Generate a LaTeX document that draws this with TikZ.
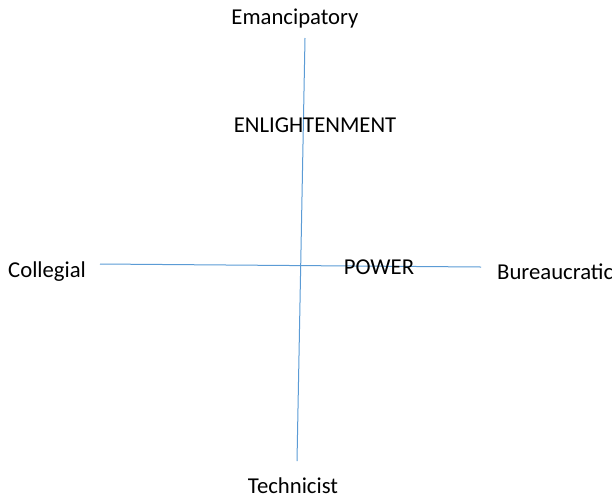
\documentclass[tikz,border=0pt]{standalone}
\usepackage{fontspec}
\setmainfont{Carlito}
\usepackage{tikz}
\usetikzlibrary{positioning}

\begin{document}
\begin{tikzpicture}[x=1pt,y=-1pt,
		axis/.style={draw=axisblue,line width=1pt},
		pole/.style={font=\fontsize{22.7}{27}\selectfont,inner sep=0pt,text=black}]
	\definecolor{axisblue}{HTML}{5B9BD5}
	\useasboundingbox (0,0) rectangle (612,499);
	% axes
	\coordinate (top) at (305,38);
	\coordinate (bot) at (297,461);
	\coordinate (left) at (100,264);
	\coordinate (right) at (481,267);
	\draw[axis] (top) -- (bot);
	\draw[axis] (left) -- (right);
	% labels
	\node(eman) [pole] at (295,19) {Emancipatory};
	\node(tech) [pole] at (293,486) {Technicist};
	\node(coll) [pole,anchor=west] at (8,272) {Collegial};
	\node(bur)  [pole,anchor=west] at (497,272) {Bureaucratic};
	\node(enl)  [pole] at (315,125) {ENLIGHTENMENT};
	\node(pow)  [pole] at (379,267) {POWER};
\end{tikzpicture}
\end{document}
